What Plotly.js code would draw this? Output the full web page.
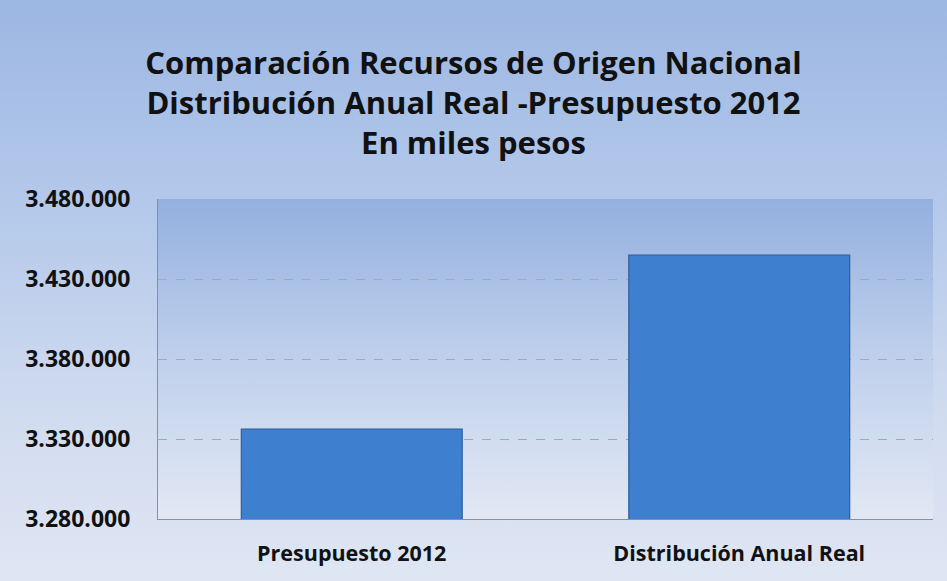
<!DOCTYPE html>
<html>
<head>
<meta charset="utf-8">
<script src="https://cdn.plot.ly/plotly-3.0.1.min.js"></script>
<style>
  html, body { margin: 0; padding: 0; }
  #chart { width: 947px; height: 581px;
    background: linear-gradient(to bottom, #9db7e3 0%, #b7cbeb 40%, #d3ddf0 75%, #dfe6f3 100%); }
</style>
</head>
<body>
<div id="chart"></div>
<script>
const categories = ["Presupuesto 2012", "Distribución Anual Real"];
const values = [3336250, 3445000];
const tickValues = [3280000, 3330000, 3380000, 3430000, 3480000];
const titleLines = ["Comparación Recursos de Origen Nacional", "Distribución Anual Real -Presupuesto 2012", "En miles pesos"];

const plotBg = 'data:image/svg+xml;utf8,' + encodeURIComponent(
  '<svg xmlns="http://www.w3.org/2000/svg" width="100" height="100" preserveAspectRatio="none">' +
  '<defs><linearGradient id="g" x1="0" y1="0" x2="0" y2="1">' +
  '<stop offset="0" stop-color="#94b0df"/><stop offset="0.5" stop-color="#bfd0ec"/><stop offset="1" stop-color="#e2e8f4"/>' +
  '</linearGradient></defs><rect width="100" height="100" fill="url(#g)"/></svg>');

const trace = {
  type: 'bar',
  x: categories,
  y: values,
  marker: { color: '#3f7fcf', line: { color: '#2d5f9c', width: 1.2 } },
  hoverinfo: 'x+y'
};

const layout = {
  width: 947, height: 581,
  paper_bgcolor: 'rgba(0,0,0,0)',
  plot_bgcolor: 'rgba(0,0,0,0)',
  margin: { l: 158, r: 14, t: 199, b: 62 },
  separators: ',.',
  bargap: 0.43,
  showlegend: false,
  font: { family: 'Open Sans, sans-serif', color: '#111' },
  title: {
    text: titleLines.join('<br>'),
    font: { family: 'Open Sans, sans-serif', size: 31, color: '#111', weight: 'bold' },
    x: 0.5, xanchor: 'center', xref: 'container',
    y: 0.873, yanchor: 'middle', yref: 'container'
  },
  xaxis: {
    showline: true, linecolor: '#8a8f99', linewidth: 1,
    ticks: '', ticklabelstandoff: 15,
    tickfont: { size: 21.5, family: 'Open Sans, sans-serif', weight: 'bold', color: '#111' },
    showgrid: false
  },
  yaxis: {
    range: [3280000, 3480000],
    tickvals: tickValues,
    tickformat: ',d',
    showline: true, linecolor: '#8a8f99', linewidth: 1,
    showgrid: true, gridcolor: '#a3a9b3', griddash: 'dash', gridwidth: 1,
    zeroline: false,
    ticks: '', ticklen: 0, ticklabelstandoff: 22,
    tickfont: { size: 23, family: 'Open Sans, sans-serif', weight: 'bold', color: '#111' }
  },
  images: [{
    source: plotBg, xref: 'paper', yref: 'paper', x: 0, y: 1, sizex: 1, sizey: 1,
    sizing: 'stretch', layer: 'below', xanchor: 'left', yanchor: 'top'
  }]
};

Plotly.newPlot('chart', [trace], layout, { displayModeBar: false });
</script>
</body>
</html>
